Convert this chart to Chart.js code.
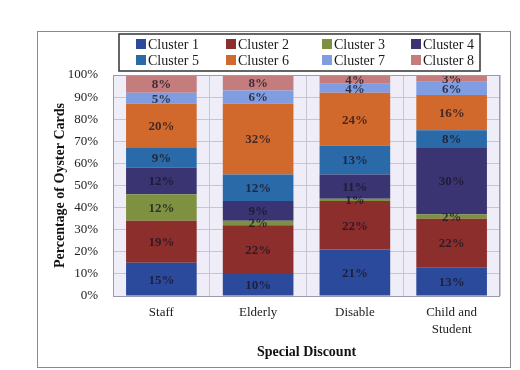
<!DOCTYPE html>
<html><head><meta charset="utf-8">
<script src="https://cdn.jsdelivr.net/npm/chart.js@4"></script>
<style>html,body{margin:0;padding:0;background:#fff}</style>
</head><body>
<canvas id="c" width="520" height="370"></canvas>
<script>
const categories = ['Staff', 'Elderly', 'Disable', ['Child and', 'Student']];
const seriesNames = ['Cluster 1', 'Cluster 2', 'Cluster 3', 'Cluster 4', 'Cluster 5', 'Cluster 6', 'Cluster 7', 'Cluster 8'];
const cluster1 = [15, 10, 21, 13];
const cluster2 = [19, 22, 22, 22];
const cluster3 = [12, 2, 1, 2];
const cluster4 = [12, 9, 11, 30];
const cluster5 = [9, 12, 13, 8];
const cluster6 = [20, 32, 24, 16];
const cluster7 = [5, 6, 4, 6];
const cluster8 = [8, 8, 4, 3];
const yTickStep = 10;
const yMax = 100;

const seriesValues = [cluster1, cluster2, cluster3, cluster4, cluster5, cluster6, cluster7, cluster8];
const colors = ['#2c4a9c', '#8c2f2c', '#7d9140', '#3b3473', '#2b6aa8', '#d2692c', '#7f9de0', '#c47d7c'];
const SERIF = '"Liberation Serif", "DejaVu Serif", serif';

const frameAndBg = {
  id: 'frameAndBg',
  beforeDraw(chart) {
    const ctx = chart.ctx, a = chart.chartArea;
    ctx.save();
    ctx.fillStyle = '#fff';
    ctx.fillRect(0, 0, chart.width, chart.height);
    ctx.strokeStyle = '#8a8a8a';
    ctx.lineWidth = 1;
    ctx.strokeRect(37.5, 31.5, 473, 336);
    ctx.fillStyle = '#eeedf8';
    ctx.fillRect(a.left, a.top, a.right - a.left, a.bottom - a.top);
    ctx.restore();
  },
  afterDatasetsDraw(chart) {
    const ctx = chart.ctx, a = chart.chartArea;
    // value labels
    ctx.save();
    ctx.font = 'bold 13px ' + SERIF;
    ctx.textAlign = 'center';
    ctx.textBaseline = 'middle';
    ctx.fillStyle = 'rgba(25,20,35,0.78)';
    chart.data.datasets.forEach((ds, i) => {
      const meta = chart.getDatasetMeta(i);
      meta.data.forEach((bar, j) => {
        const v = ds.data[j];
        if (!v) return;
        const top = Math.max(bar.y, a.top);
        ctx.fillText(v + '%', bar.x, (top + bar.base) / 2 + 1);
      });
    });
    ctx.strokeStyle = '#9a9aaa';
    ctx.lineWidth = 1;
    ctx.strokeRect(a.left + 0.5, a.top + 0.5, a.right - a.left - 1, a.bottom - a.top);
    ctx.restore();
  },
  afterDraw(chart) {
    const ctx = chart.ctx;
    ctx.save();
    // legend box
    ctx.fillStyle = '#fff';
    ctx.fillRect(119, 34, 361, 37);
    ctx.strokeStyle = '#333';
    ctx.lineWidth = 1.5;
    ctx.strokeRect(119, 34, 361, 37);
    const colX = [136, 226, 322, 411];
    const rowY = [44, 60];
    ctx.font = '14px ' + SERIF;
    ctx.textBaseline = 'middle';
    ctx.textAlign = 'left';
    chart.data.datasets.forEach((ds, i) => {
      const x = colX[i % 4], y = rowY[Math.floor(i / 4)];
      ctx.fillStyle = ds.backgroundColor;
      ctx.fillRect(x, y - 5, 10, 10);
      ctx.fillStyle = '#1a1a1a';
      ctx.fillText(ds.label, x + 12, y + 1);
    });
    ctx.restore();
  }
};

new Chart(document.getElementById('c'), {
  type: 'bar',
  data: {
    labels: categories,
    datasets: seriesNames.map((n, i) => ({
      label: n,
      data: seriesValues[i],
      backgroundColor: colors[i],
      borderWidth: 0,
      categoryPercentage: 1,
      barPercentage: 0.73
    }))
  },
  options: {
    responsive: false,
    animation: false,
    devicePixelRatio: 1,
    layout: { padding: { left: 0, right: 20, top: 75, bottom: 0 } },
    plugins: { legend: { display: false }, tooltip: { enabled: false } },
    scales: {
      x: {
        stacked: true,
        grid: { offset: true, color: '#c6c5d6', drawTicks: false },
        border: { display: false },
        ticks: { font: { family: SERIF, size: 13, lineHeight: 1.3 }, color: '#222', padding: 8, maxRotation: 0 },
        title: { display: true, text: 'Special Discount', font: { family: SERIF, size: 14, weight: 'bold' }, color: '#111', padding: { top: 0, bottom: 9.6 } },
        afterFit(s) { s.height = 74; }
      },
      y: {
        stacked: true,
        min: 0,
        max: yMax,
        ticks: { stepSize: yTickStep, callback: v => v + '%', font: { family: SERIF, size: 13 }, color: '#222', padding: 15 },
        grid: { color: '#c6c5d6', drawTicks: false },
        border: { display: false },
        title: { display: true, text: 'Percentage of Oyster Cards', font: { family: SERIF, size: 14, weight: 'bold' }, color: '#111', padding: { top: 51.6, bottom: 0 } },
        afterFit(s) { s.width = 113; }
      }
    }
  },
  plugins: [frameAndBg]
});
</script>
</body></html>
